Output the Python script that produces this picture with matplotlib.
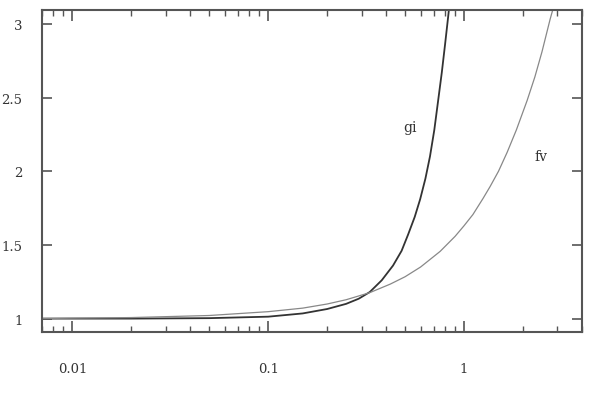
import matplotlib.pyplot as plt
from matplotlib.ticker import FixedLocator, NullFormatter

# curve values
gi_x = [0.007, 0.02, 0.05, 0.1, 0.15, 0.2, 0.25, 0.29, 0.33, 0.38, 0.434, 0.48, 0.518,
        0.56, 0.597, 0.635, 0.67, 0.705, 0.736, 0.77, 0.8, 0.83, 0.85]
gi_y = [1.0, 1.0, 1.003, 1.013, 1.035, 1.065, 1.10, 1.135, 1.18, 1.26, 1.36, 1.46, 1.57,
        1.69, 1.81, 1.95, 2.10, 2.28, 2.47, 2.67, 2.86, 3.05, 3.18]
fv_x = [0.007, 0.01, 0.02, 0.05, 0.1, 0.15, 0.2, 0.25, 0.33, 0.42, 0.5, 0.6, 0.755,
        0.9, 1.0, 1.11, 1.25, 1.36, 1.5, 1.66, 1.85, 2.1, 2.3, 2.5, 2.75, 2.9]
fv_y = [1.0, 1.003, 1.007, 1.021, 1.047, 1.071, 1.099, 1.128, 1.176, 1.234, 1.284, 1.35,
        1.456, 1.558, 1.63, 1.706, 1.815, 1.897, 2.0, 2.128, 2.28, 2.48, 2.64, 2.81, 3.03,
        3.14]

xticks = [0.01, 0.1, 1]
xtick_labels = ['0.01', '0.1', '1']
yticks = [1, 1.5, 2, 2.5, 3]
ytick_labels = ['1', '1.5', '2', '2.5', '3']

plt.rcParams['font.family'] = ['DejaVu Serif']
fig = plt.figure(figsize=(5.92, 4.02), dpi=100)
ax = fig.add_axes([0.071, 0.172, 0.912, 0.801])

ax.plot(gi_x, gi_y, color='#333333', lw=1.3)
ax.plot(fv_x, fv_y, color='#888888', lw=0.9)

ax.set_xscale('log')
ax.set_xlim(0.007, 4)
ax.set_ylim(0.91, 3.095)

ax.xaxis.set_major_locator(FixedLocator(xticks))
ax.set_xticklabels(xtick_labels)
minors = [m * 10.0**e for e in (-3, -2, -1, 0) for m in range(2, 10)]
ax.xaxis.set_minor_locator(FixedLocator(minors))
ax.xaxis.set_minor_formatter(NullFormatter())
ax.set_yticks(yticks)
ax.set_yticklabels(ytick_labels)

ax.tick_params(which='both', direction='in', top=True, right=True, color='#555555',
               labelsize=9.5, labelcolor='#333333')
ax.tick_params(axis='x', which='major', length=8, width=1.2, pad=22)
ax.tick_params(axis='x', which='minor', length=4, width=1.0)
ax.tick_params(axis='y', which='major', length=7, width=1.2, pad=14)
for s in ax.spines.values():
    s.set_color('#555555')
    s.set_linewidth(1.5)

ax.text(0.53, 2.30, 'gi', fontsize=10, color='#333333', ha='center', va='center')
ax.text(2.47, 2.10, 'fv', fontsize=10, color='#333333', ha='center', va='center')

fig.savefig('out.png', dpi=100)
